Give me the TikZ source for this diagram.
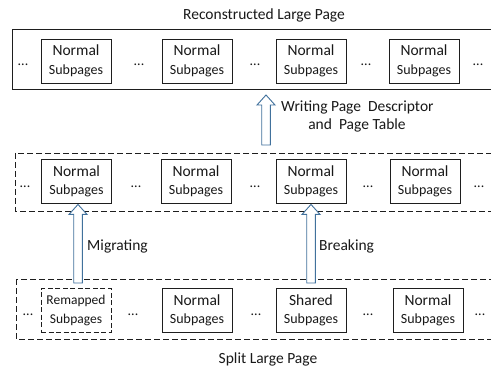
\documentclass[tikz,border=0pt]{standalone}
\usepackage{fontspec}
\setmainfont{Carlito}
\usetikzlibrary{calc}
\definecolor{arrowblue}{RGB}{65,113,156}
\definecolor{lineg}{RGB}{30,30,30}
\newcommand{\blockarrow}[2]{%
  \draw[barrow] ($(#2)+(-4.3,10)$) -- ($(#2)+(-9,10)$) -- (#2) -- ($(#2)+(9,10)$) -- ($(#2)+(4.3,10)$)
    -- ($(#2 |- #1)+(4.3,0)$) -- ($(#2 |- #1)+(-4.3,0)$) -- cycle;}
\newcommand{\subtxt}[1]{#1\\{\fontsize{14}{18.6}\selectfont Subpages}}
\begin{document}
\begin{tikzpicture}[x=1pt,y=-1pt,
  every node/.style={font=\fontsize{15.5}{18.6}\selectfont, text=black!90},
  sub/.style={draw=lineg, line width=0.9pt, minimum width=70pt, minimum height=44pt, inner sep=0pt, align=center},
  frame/.style={draw=lineg, line width=0.9pt},
  dashframe/.style={frame, dash pattern=on 6pt off 3pt},
  dots/.style={anchor=base, inner sep=0pt, font=\fontsize{14}{16}\selectfont},
  lbl/.style={anchor=base west, inner sep=0pt},
  ctr/.style={anchor=base, inner sep=0pt},
  barrow/.style={draw=arrowblue, fill=white, line width=0.9pt, line join=miter}
]
\clip (0,0) rectangle (491,369);
\fill[white] (0,0) rectangle (491,369);

% frames
\draw[frame] (12,29) rectangle (497,89);
\draw[dashframe] (15,153) rectangle (497,211);
\draw[dashframe] (16,279) rectangle (497,339);

% titles
\node[ctr] (title) at (264,19.5) {Reconstructed Large Page};
\node[ctr] (split) at (268,363) {Split Large Page};

% row 1
\node[sub] (a1) at (76,61) {\subtxt{Normal}};
\node[sub] (a2) at (197,61) {\subtxt{Normal}};
\node[sub] (a3) at (311,61) {\subtxt{Normal}};
\node[sub] (a4) at (424,61) {\subtxt{Normal}};
\node[dots] (ad1) at (23,66) {...};
\node[dots] (ad2) at (139,66) {...};
\node[dots] (ad3) at (255,66) {...};
\node[dots] (ad4) at (366,66) {...};
\node[dots] (ad5) at (478,66) {...};

% row 2
\node[sub] (b1) at (76.5,181.5) {\subtxt{Normal}};
\node[sub] (b2) at (196,181.5) {\subtxt{Normal}};
\node[sub] (b3) at (311,181.5) {\subtxt{Normal}};
\node[sub] (b4) at (425,181.5) {\subtxt{Normal}};
\node[dots] (bd1) at (25,188) {...};
\node[dots] (bd2) at (136,188) {...};
\node[dots] (bd3) at (255,188) {...};
\node[dots] (bd4) at (368,188) {...};
\node[dots] (bd5) at (479,188) {...};

% row 3
\node[sub, dash pattern=on 5pt off 2.5pt, font=\fontsize{13.5}{18.6}\selectfont] (c1) at (76,310.5) {Remapped\\Subpages};
\node[sub] (c2) at (197,310.5) {\subtxt{Normal}};
\node[sub] (c3) at (311,310.5) {\subtxt{Shared}};
\node[sub] (c4) at (428,310.5) {\subtxt{Normal}};
\node[dots] (cd1) at (28,316) {...};
\node[dots] (cd2) at (133,316) {...};
\node[dots] (cd3) at (256,316) {...};
\node[dots] (cd4) at (368,316) {...};
\node[dots] (cd5) at (480,316) {...};

% arrows
\coordinate (t1) at (266,95);
\coordinate (s1) at (266,145);
\blockarrow{s1}{t1}
\coordinate (t2) at ($(b1.south)+(1.5,0.5)$);
\coordinate (s2) at (78,283);
\blockarrow{s2}{t2}
\coordinate (t3) at ($(b3.south)+(0,0.5)$);
\coordinate (s3) at (311,283);
\blockarrow{s3}{t3}

% labels
\node[lbl] (w1) at (281,111.7) {Writing Page\ \ Descriptor};
\node[ctr] (w2) at (357,130) {and\ \ Page Table};
\node[lbl] (mig) at (87,251) {Migrating};
\node[lbl] (brk) at (319,251) {Breaking};
\end{tikzpicture}
\end{document}
